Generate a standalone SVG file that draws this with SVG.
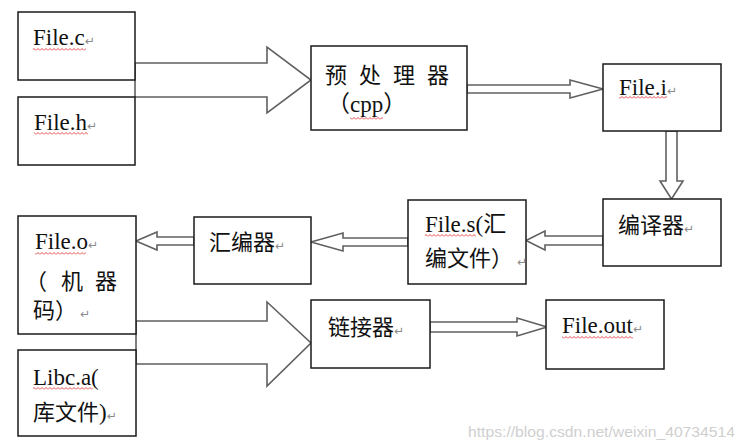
<svg xmlns="http://www.w3.org/2000/svg" width="744" height="446" viewBox="0 0 744 446">
<style>
.box{fill:#fff;stroke:#1a1a1a;stroke-width:1.5}
.arr{fill:#fff;stroke:#606060;stroke-width:1.6;stroke-linejoin:miter}
.en{font-family:"Liberation Serif","Noto Sans CJK SC",serif;font-size:23px;fill:#111}
.zh{font-family:"Noto Sans CJK SC",sans-serif;font-size:22px;fill:#111}
.ret{font-family:"DejaVu Sans",sans-serif;font-size:12px;fill:#8a8a8a}
.wm{font-family:"Liberation Sans",sans-serif;font-size:15px;fill:#cfcfcf}
</style>
<defs>
<pattern id="wavy" width="4" height="3" patternUnits="userSpaceOnUse">
<path d="M0 2.5 L2 0.5 L4 2.5" fill="none" stroke="#e23a3a" stroke-width="0.9"/>
</pattern>
</defs>
<rect width="744" height="446" fill="#fff"/>

<g id="connectors">
<polygon class="arr" points="135,63 267,63 267,47 311,80 267,113 267,97 135,97"/>
<polygon class="arr" points="467,85 570,85 570,80 603,89 570,98 570,93 467,93"/>
<polygon class="arr" points="666,131 677,131 677,181 683,181 671.5,199 660,181 666,181"/>
<polygon class="arr" points="603,236 545,236 545,231 526,240.5 545,250 545,245 603,245"/>
<polygon class="arr" points="408,238 343,238 343,233 311,242 343,251 343,246 408,246"/>
<polygon class="arr" points="194,237 157,237 157,232 136,241 157,250 157,245 194,245"/>
<polygon class="arr" points="136,321 267,321 267,302 311,343 267,386 267,364 136,364"/>
<polygon class="arr" points="430,322 517,322 517,318 547,327 517,336 517,332 430,332"/>
</g>

<g id="n-file-c">
<rect class="box" x="18" y="12" width="117" height="68"/>
<text class="en" x="33" y="45">File.c<tspan class="ret">↵</tspan></text>
<rect x="33" y="48" width="53" height="3" fill="url(#wavy)"/>
</g>

<g id="n-file-h">
<rect class="box" x="18" y="97" width="117" height="68"/>
<text class="en" x="34" y="130">File.h<tspan class="ret">↵</tspan></text>
<rect x="34" y="132" width="54" height="3" fill="url(#wavy)"/>
</g>

<g id="n-cpp">
<rect class="box" x="311" y="46" width="156" height="84"/>
<text class="zh" x="325" y="83"><tspan x="325">预</tspan><tspan x="359">处</tspan><tspan x="393">理</tspan><tspan x="427">器</tspan></text>
<text class="en" x="327" y="112">（cpp）</text>
<rect x="350" y="117" width="33" height="3" fill="url(#wavy)"/>
</g>

<g id="n-file-i">
<rect class="box" x="603" y="64" width="118" height="67"/>
<text class="en" x="619" y="95">File.i<tspan class="ret">↵</tspan></text>
<rect x="619" y="96" width="48" height="3" fill="url(#wavy)"/>
</g>

<g id="n-compiler">
<rect class="box" x="603" y="199" width="118" height="67"/>
<text class="zh" x="618" y="233">编译器<tspan class="ret">↵</tspan></text>
</g>

<g id="n-file-s">
<rect class="box" x="408" y="200" width="118" height="84"/>
<text class="en" x="425" y="232">File.s(汇</text>
<rect x="425" y="234" width="51" height="3" fill="url(#wavy)"/>
<text class="zh" x="425" y="266">编文件）</text>
<text class="ret" x="517" y="266">↵</text>
</g>

<g id="n-assembler">
<rect class="box" x="194" y="217" width="117" height="67"/>
<text class="zh" x="209" y="250">汇编器<tspan class="ret">↵</tspan></text>
</g>

<g id="n-file-o">
<rect class="box" x="18" y="216" width="118" height="118"/>
<text class="en" x="35" y="249">File.o<tspan class="ret">↵</tspan></text>
<rect x="35" y="252" width="51" height="3" fill="url(#wavy)"/>
<text class="zh" y="289"><tspan x="25">（</tspan><tspan x="61">机</tspan><tspan x="95">器</tspan></text>
<text class="zh" x="33" y="318">码）</text>
<text class="ret" x="80" y="318">↵</text>
</g>

<g id="n-libc">
<rect class="box" x="18" y="350" width="118" height="86"/>
<text class="en" x="33" y="385">Libc.a(</text>
<rect x="33" y="387" width="60" height="3" fill="url(#wavy)"/>
<text class="zh" x="33" y="420">库文件<tspan class="en">)</tspan><tspan class="ret">↵</tspan></text>
</g>

<g id="n-linker">
<rect class="box" x="311" y="300" width="119" height="68"/>
<text class="zh" x="328" y="335">链接器<tspan class="ret">↵</tspan></text>
</g>

<g id="n-file-out">
<rect class="box" x="546" y="300" width="118" height="69"/>
<text class="en" x="562" y="333">File.out<tspan class="ret">↵</tspan></text>
<rect x="562" y="336" width="71" height="3" fill="url(#wavy)"/>
</g>

<text class="wm" x="468" y="437" textLength="267" lengthAdjust="spacingAndGlyphs">https://blog.csdn.net/weixin_40734514</text>
</svg>
